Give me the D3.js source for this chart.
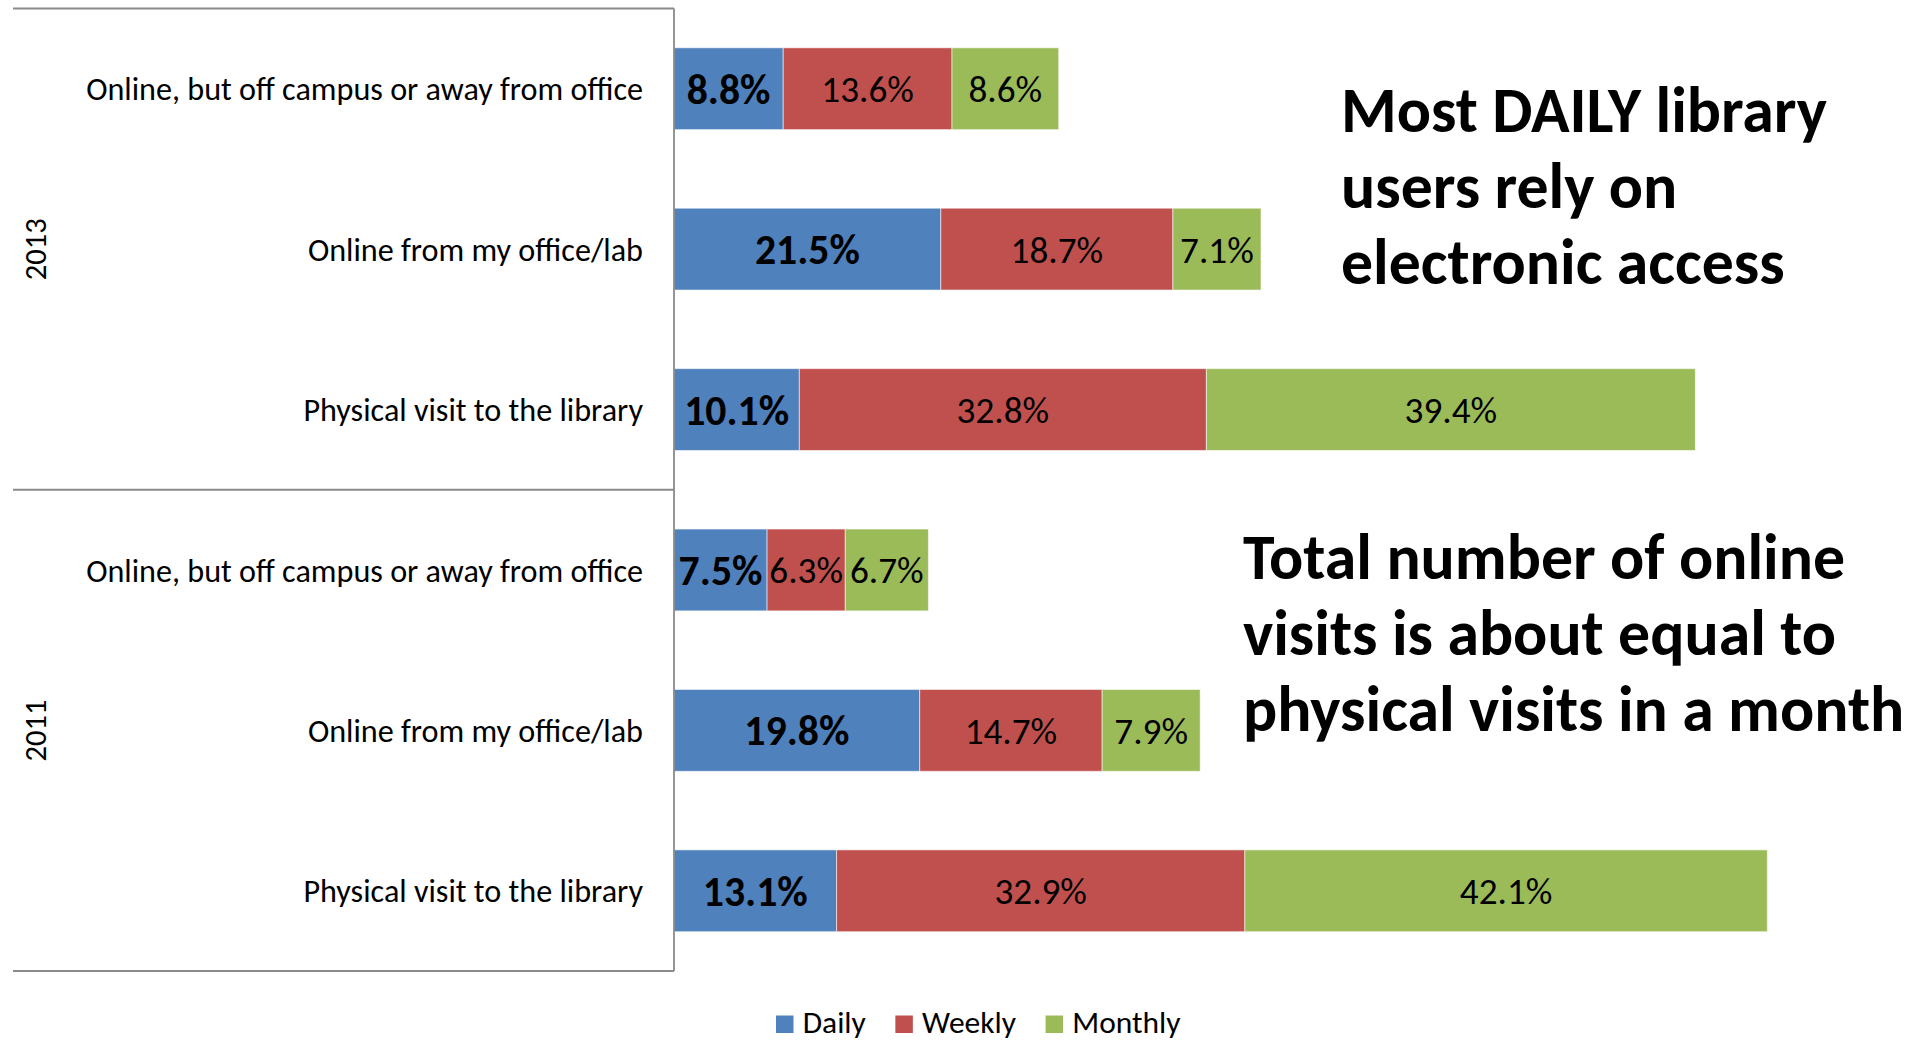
<!DOCTYPE html>
<html>
<head>
<meta charset="utf-8">
<script src="https://cdn.jsdelivr.net/npm/d3@7"></script>
<style>
  html, body { margin: 0; padding: 0; background: #fff; overflow: hidden; }
  svg { display: block; }
  text { font-family: Carlito, Calibri, Lato, sans-serif; fill: #000; }
</style>
</head>
<body>
<svg id="chart" width="1915" height="1041"></svg>
<script>
// ---- data ----
const years = ["2013", "2011"];
const categories = [
  "Online, but off campus or away from office",
  "Online from my office/lab",
  "Physical visit to the library"
];
const seriesNames = ["Daily", "Weekly", "Monthly"];
const daily2013   = [8.8, 21.5, 10.1];
const weekly2013  = [13.6, 18.7, 32.8];
const monthly2013 = [8.6, 7.1, 39.4];
const daily2011   = [7.5, 19.8, 13.1];
const weekly2011  = [6.3, 14.7, 32.9];
const monthly2011 = [6.7, 7.9, 42.1];
const annotation1 = ["Most DAILY library", "users rely on", "electronic access"];
const annotation2 = ["Total number of online", "visits is about equal to", "physical visits in a month"];

// ---- build table ----
const valuesByYear = {
  "2013": [daily2013, weekly2013, monthly2013],
  "2011": [daily2011, weekly2011, monthly2011]
};
const rows = [];
years.forEach(y => categories.forEach((c, i) => {
  const r = { key: y + "|" + c, year: y, cat: c };
  seriesNames.forEach((s, k) => r[s] = valuesByYear[y][k][i]);
  rows.push(r);
}));

const colors = { Daily: "#4F81BD", Weekly: "#C0504D", Monthly: "#9BBB59" };

const svg = d3.select("#chart");
const FAMILY = "Carlito, Calibri, Lato, sans-serif";

// fit font size so that a reference string reaches a target width
function fitSize(str, weight, target) {
  const t = svg.append("text").attr("font-size", 100).attr("font-weight", weight)
    .style("font-family", FAMILY).text(str);
  const w = t.node().getComputedTextLength();
  t.remove();
  return 100 * target / w;
}
const catSize   = fitSize(categories[0], "normal", 557);
const yearSize  = fitSize("2013", "normal", 62);
const valSize   = fitSize("18.7%", "normal", 92.5);
const boldSize  = fitSize("21.5%", "bold", 105);
const noteSize  = fitSize(annotation1[0], "bold", 486);
const legSize   = fitSize("Weekly", "normal", 94);
const CAP = 0.36; // half cap-height ratio for vertical centering

// ---- scales ----
const x = d3.scaleLinear().domain([0, 100]).range([674, 1915]);
const y = d3.scaleBand().domain(rows.map(r => r.key)).range([8.5, 971])
  .paddingInner(0.49).paddingOuter(0.245);
const step = y.step();

const stack = d3.stack().keys(seriesNames)(rows);

// ---- bars ----
const layers = svg.append("g").selectAll("g").data(stack).join("g")
  .attr("fill", d => colors[d.key]);
layers.selectAll("rect").data(d => d).join("rect")
  .attr("x", d => x(d[0]))
  .attr("y", d => y(d.data.key))
  .attr("width", d => x(d[1]) - x(d[0]))
  .attr("height", y.bandwidth())
  .attr("stroke", "rgba(255,255,255,0.55)")
  .attr("stroke-width", 1);

// ---- value labels ----
stack.forEach(layer => {
  const bold = layer.key === "Daily";
  const fs = bold ? boldSize : valSize;
  svg.append("g").selectAll("text").data(layer).join("text")
    .attr("x", d => (x(d[0]) + x(d[1])) / 2)
    .attr("y", d => y(d.data.key) + y.bandwidth() / 2 + CAP * fs)
    .attr("text-anchor", "middle")
    .attr("font-size", fs)
    .attr("font-weight", bold ? "bold" : "normal")
    .text(d => (d[1] - d[0]).toFixed(1) + "%");
});

// ---- category axis (multi-level) ----
const axisColor = "#8a8a8a";
const rangeTop = y.range()[0], rangeBot = y.range()[1];
svg.append("line").attr("x1", x(0)).attr("x2", x(0))
  .attr("y1", rangeTop).attr("y2", rangeBot)
  .attr("stroke", axisColor).attr("stroke-width", 1.8);
[0, 3, 6].forEach(i => {
  const yy = rangeTop + i * step;
  svg.append("line").attr("x1", 13).attr("x2", x(0))
    .attr("y1", yy).attr("y2", yy)
    .attr("stroke", axisColor).attr("stroke-width", 1.8);
});

svg.append("g").selectAll("text").data(rows).join("text")
  .attr("x", 643)
  .attr("y", d => y(d.key) + y.bandwidth() / 2 + CAP * catSize)
  .attr("text-anchor", "end")
  .attr("font-size", catSize)
  .text(d => d.cat);

years.forEach((yr, gi) => {
  const cy = rangeTop + (gi * 3 + 1.5) * step;
  svg.append("text")
    .attr("transform", `translate(46,${cy}) rotate(-90)`)
    .attr("text-anchor", "middle")
    .attr("font-size", yearSize)
    .text(yr);
});

// ---- annotations ----
function note(lines, x0, y0) {
  const t = svg.append("text").attr("font-size", noteSize).attr("font-weight", "bold");
  lines.forEach((ln, i) => t.append("tspan").attr("x", x0).attr("y", y0 + i * 76).text(ln));
}
note(annotation1, 1341, 131.7);
note(annotation2, 1243, 579);

// ---- legend ----
const legend = svg.append("g");
let lx = 776;
seriesNames.forEach(s => {
  legend.append("rect").attr("x", lx).attr("y", 1015.5).attr("width", 17.5).attr("height", 17.5)
    .attr("fill", colors[s]);
  const t = legend.append("text").attr("x", lx + 26.7).attr("y", 1033)
    .attr("font-size", legSize).text(s);
  lx = lx + 26.7 + t.node().getComputedTextLength() + 29.5;
});
</script>
</body>
</html>
